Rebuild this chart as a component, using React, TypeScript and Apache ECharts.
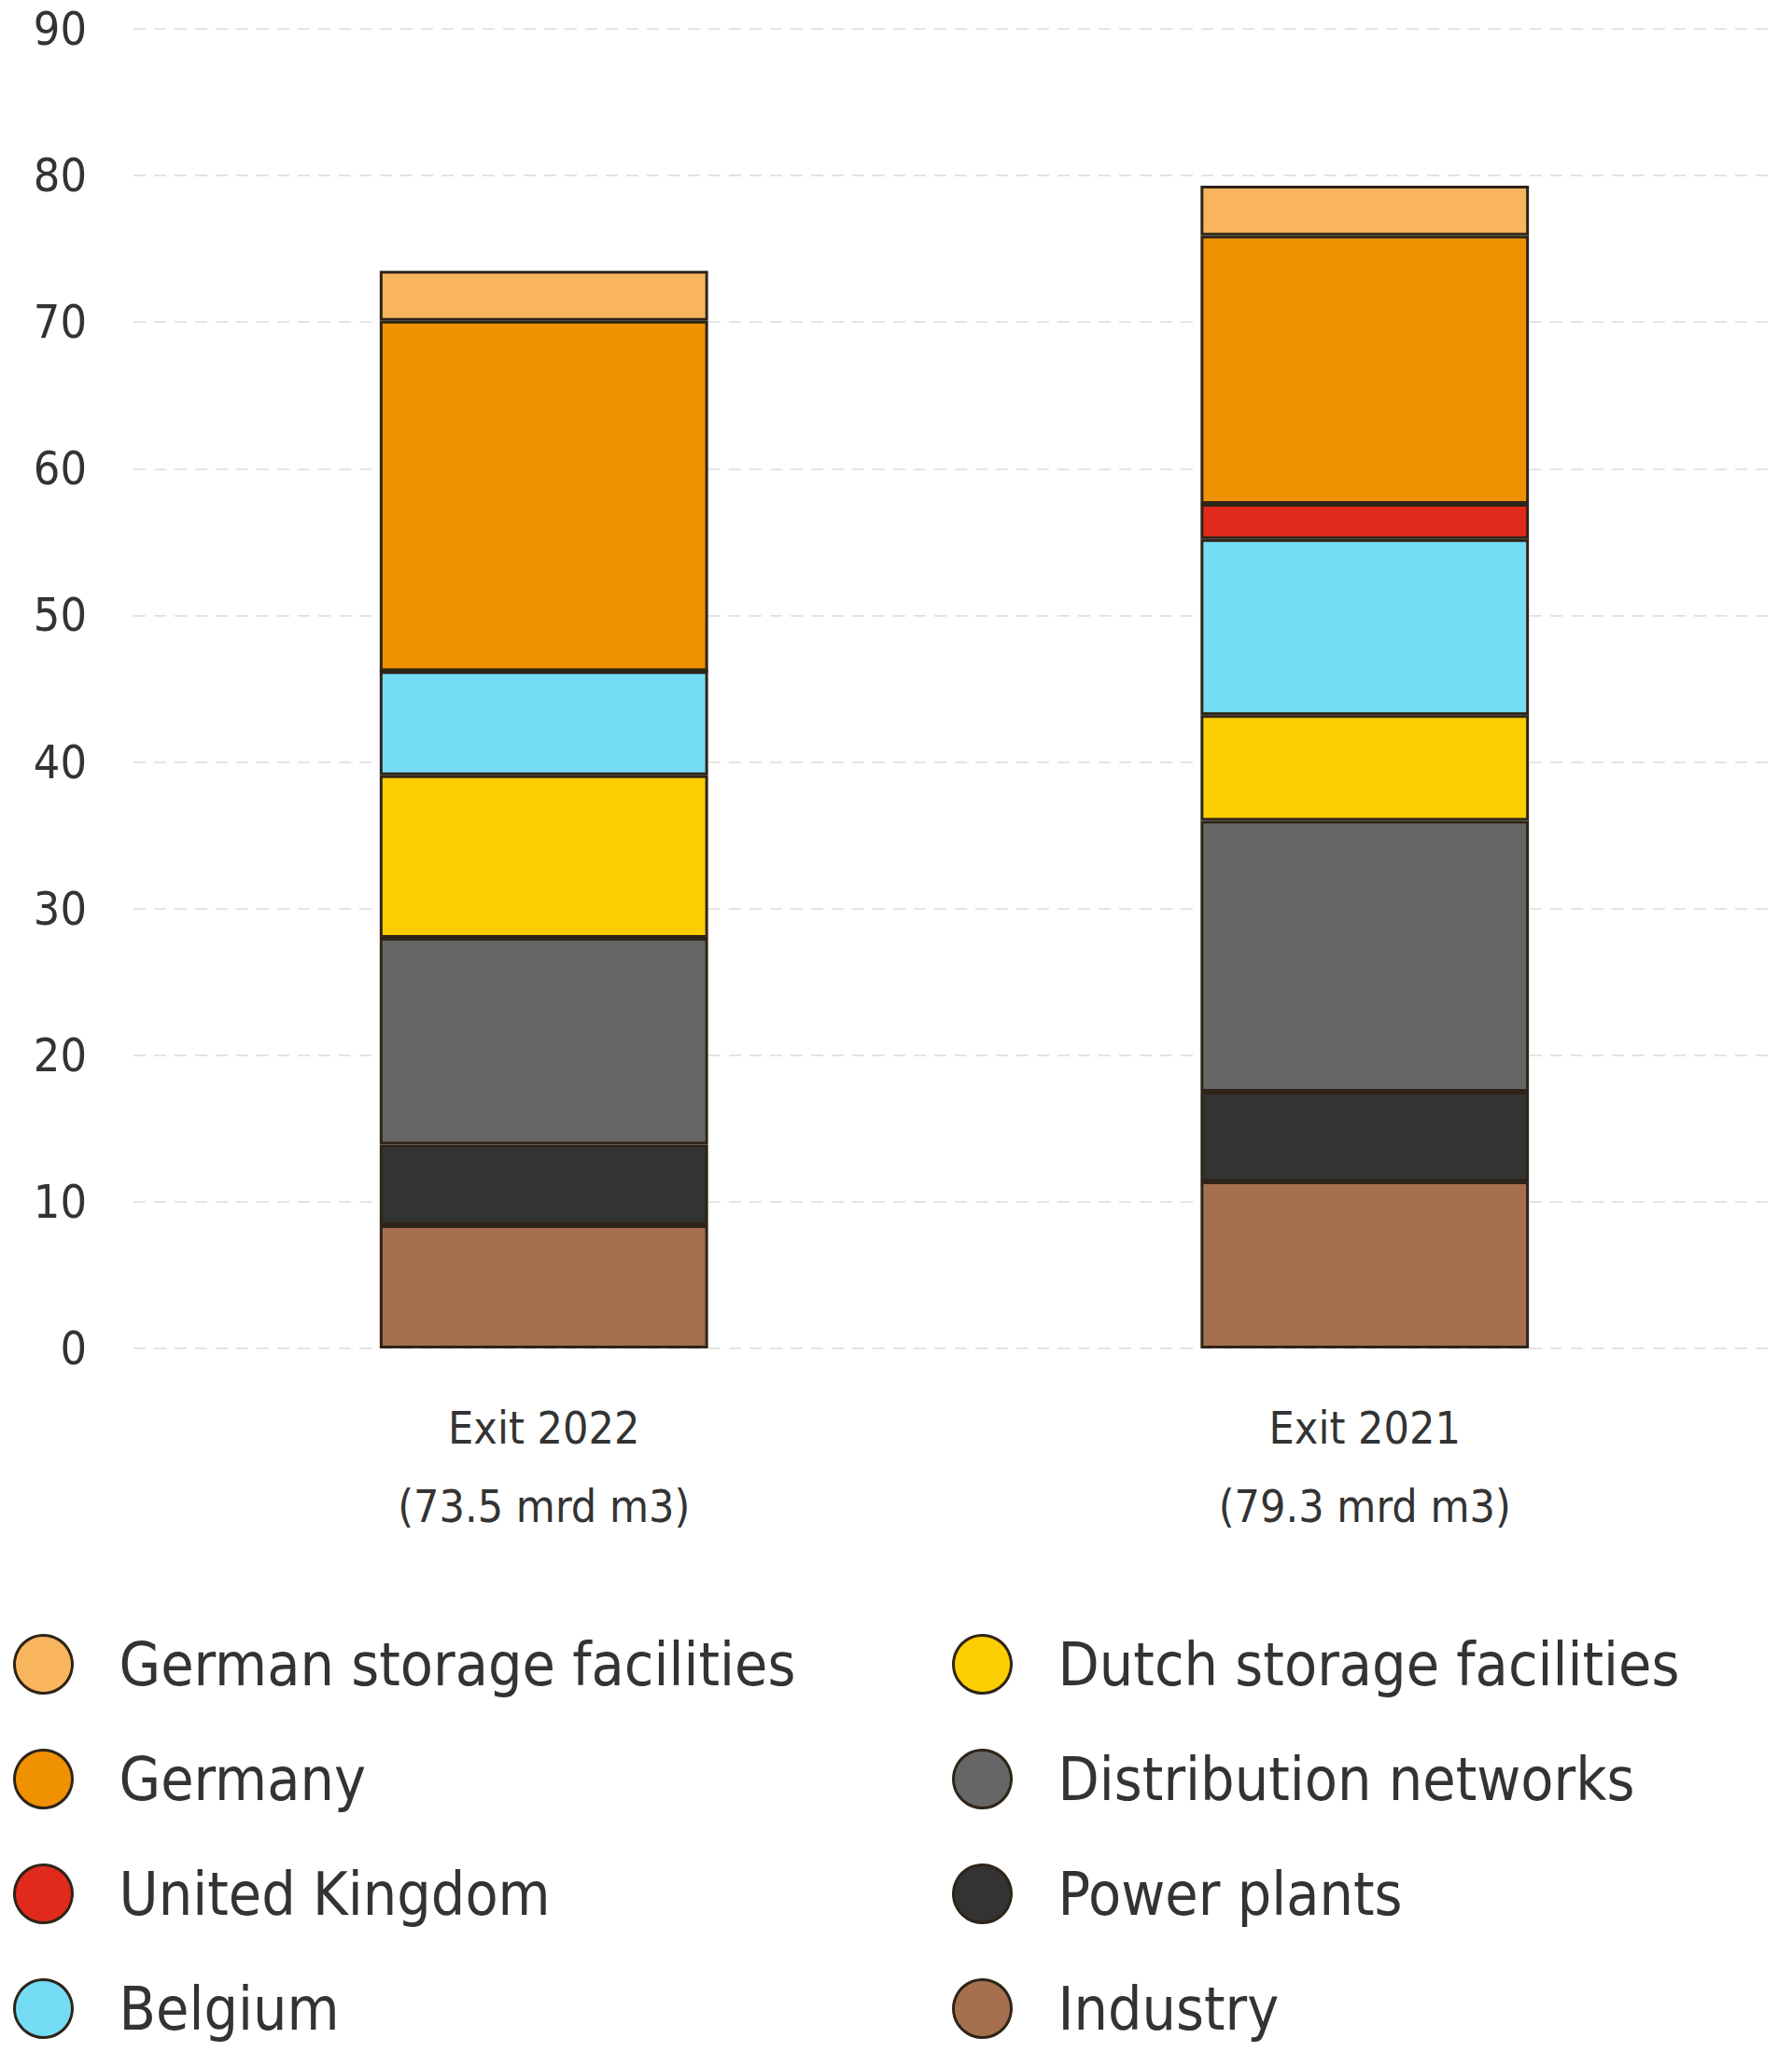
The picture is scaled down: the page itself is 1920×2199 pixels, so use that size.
import * as echarts from "echarts"
import { useEffect, useRef } from "react"

const categories = ["Exit 2022\n(73.5 mrd m3)", "Exit 2021\n(79.3 mrd m3)"]

// stacked bottom to top
const industry = [8.4, 11.4]
const powerPlants = [5.5, 6.1]
const distribution = [14.1, 18.5]
const dutchStorage = [11.1, 7.2]
const belgium = [7.1, 12.0]
const unitedKingdom = [0, 2.4]
const germany = [23.9, 18.3]
const germanStorage = [3.4, 3.4]

const yTicks = { min: 0, max: 90, interval: 10 }

const FONT = "'Liberation Sans Narrow', 'DejaVu Sans Condensed', 'Noto Sans', sans-serif"
const TEXT = "#333333"
const EDGE = "#2e2418"

const seriesDefs = [
  { name: "Industry", data: industry, color: "#a66f4e" },
  { name: "Power plants", data: powerPlants, color: "#333333" },
  { name: "Distribution networks", data: distribution, color: "#666666" },
  { name: "Dutch storage facilities", data: dutchStorage, color: "#fccd00" },
  { name: "Belgium", data: belgium, color: "#74dcf3" },
  { name: "United Kingdom", data: unitedKingdom, color: "#e12a1b" },
  { name: "Germany", data: germany, color: "#ef9100" },
  { name: "German storage facilities", data: germanStorage, color: "#f9b55e" },
]

const legendLeft = ["German storage facilities", "Germany", "United Kingdom", "Belgium"]
const legendRight = ["Dutch storage facilities", "Distribution networks", "Power plants", "Industry"]

function legendBlock(data: string[], left: number) {
  return {
    data,
    orient: "vertical",
    left,
    top: 1746,
    width: 880,
    height: 440,
    icon: "circle",
    itemWidth: 62,
    itemHeight: 62,
    itemGap: 58,
    selectedMode: false,
    itemStyle: { borderColor: EDGE, borderWidth: 3 },
    textStyle: {
      color: TEXT,
      fontFamily: FONT,
      fontSize: 64,
      lineHeight: 62,
      padding: [0, 0, 0, 45],
    },
  }
}

export default function App() {
  const ref = useRef<HTMLDivElement>(null)

  useEffect(() => {
    if (!ref.current) return
    document.body.style.margin = "0"
    const chart = echarts.init(ref.current, null, { renderer: "svg" })
    chart.setOption({
      animation: false,
      backgroundColor: "#ffffff",
      grid: { left: 143, right: 18, top: 31, bottom: 754 },
      legend: [legendBlock(legendLeft, 9), legendBlock(legendRight, 1015)],
      xAxis: {
        type: "category",
        data: categories,
        axisLine: { show: false },
        axisTick: { show: false },
        axisLabel: {
          color: TEXT,
          fontFamily: FONT,
          fontSize: 48,
          lineHeight: 84,
          margin: 43,
        },
      },
      yAxis: {
        type: "value",
        ...yTicks,
        axisLine: { show: false },
        axisTick: { show: false },
        axisLabel: {
          color: TEXT,
          fontFamily: FONT,
          fontSize: 50,
          margin: 50,
        },
        splitLine: {
          lineStyle: { color: "#e4e4e4", width: 2, type: [13, 9] },
        },
      },
      series: seriesDefs.map((s) => ({
        name: s.name,
        type: "bar",
        stack: "total",
        data: s.data,
        barWidth: "40%",
        itemStyle: { color: s.color, borderColor: EDGE, borderWidth: 3 },
      })),
    })
    return () => chart.dispose()
  }, [])

  return <div ref={ref} style={{ width: 1920, height: 2199 }} />
}
